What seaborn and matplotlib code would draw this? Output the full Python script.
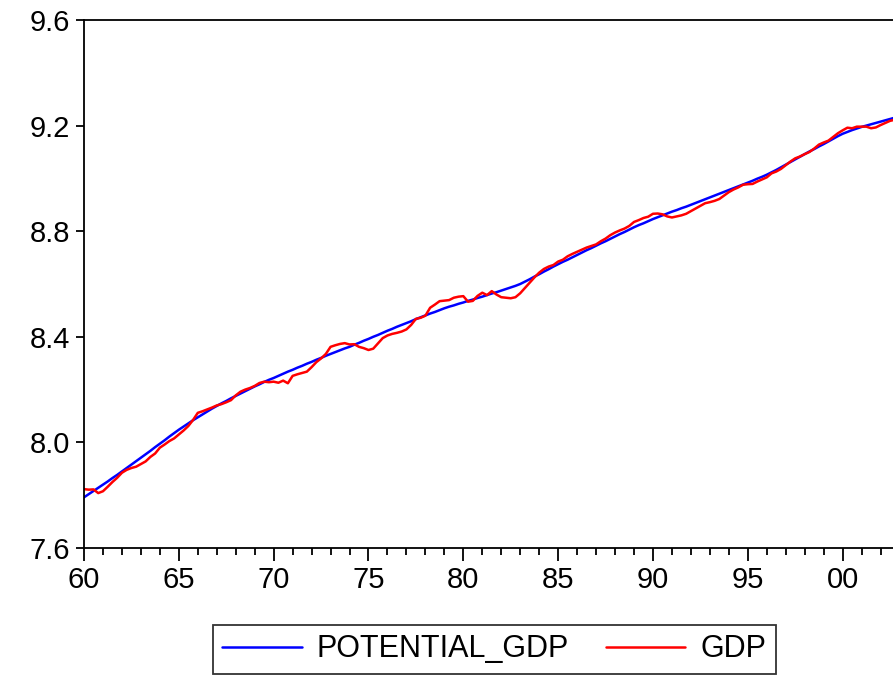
import numpy as np
import pandas as pd
import matplotlib
matplotlib.use("Agg")
import matplotlib.pyplot as plt
import seaborn as sns
from matplotlib.lines import Line2D

# ---- data (quarterly, 1960Q1 - 2002Q4), log levels ----
years = list(range(1960, 2003))
quarters = [1, 2, 3, 4]

potential_gdp = [
    7.792, 7.804, 7.816, 7.828,  7.840, 7.852, 7.865, 7.877,
    7.890, 7.903, 7.916, 7.929,  7.942, 7.955, 7.968, 7.982,
    7.995, 8.008, 8.022, 8.035,  8.048, 8.060, 8.072, 8.084,
    8.095, 8.106, 8.117, 8.128,  8.138, 8.148, 8.157, 8.167,
    8.176, 8.185, 8.194, 8.203,  8.212, 8.220, 8.229, 8.237,
    8.244, 8.252, 8.260, 8.268,  8.275, 8.283, 8.290, 8.298,
    8.305, 8.313, 8.320, 8.328,  8.335, 8.342, 8.349, 8.356,
    8.362, 8.370, 8.377, 8.385,  8.392, 8.400, 8.407, 8.415,
    8.423, 8.430, 8.438, 8.445,  8.452, 8.459, 8.467, 8.474,
    8.481, 8.488, 8.494, 8.501,  8.508, 8.514, 8.519, 8.525,
    8.530, 8.536, 8.541, 8.547,  8.552, 8.558, 8.564, 8.569,
    8.575, 8.581, 8.587, 8.593,  8.600, 8.609, 8.618, 8.628,
    8.637, 8.647, 8.656, 8.666,  8.675, 8.684, 8.692, 8.701,
    8.710, 8.719, 8.728, 8.736,  8.745, 8.754, 8.762, 8.771,
    8.780, 8.789, 8.797, 8.806,  8.815, 8.823, 8.830, 8.838,
    8.846, 8.853, 8.860, 8.867,  8.874, 8.880, 8.887, 8.893,
    8.900, 8.907, 8.914, 8.921,  8.928, 8.935, 8.942, 8.949,
    8.956, 8.963, 8.970, 8.977,  8.984, 8.991, 8.999, 9.006,
    9.014, 9.023, 9.032, 9.042,  9.052, 9.062, 9.072, 9.082,
    9.092, 9.102, 9.111, 9.121,  9.130, 9.140, 9.150, 9.160,
    9.169, 9.176, 9.183, 9.189,  9.195, 9.200, 9.205, 9.210,
    9.215, 9.220, 9.225, 9.230,
]

gdp = [
    7.823, 7.821, 7.822, 7.808,  7.815, 7.832, 7.850, 7.866,
    7.885, 7.896, 7.903, 7.908,  7.918, 7.928, 7.945, 7.958,
    7.980, 7.992, 8.005, 8.015,  8.030, 8.045, 8.062, 8.085,
    8.112, 8.118, 8.125, 8.132,  8.140, 8.145, 8.152, 8.160,
    8.178, 8.192, 8.200, 8.206,  8.214, 8.225, 8.230, 8.228,
    8.230, 8.226, 8.234, 8.224,  8.252, 8.258, 8.263, 8.268,
    8.285, 8.304, 8.318, 8.335,  8.362, 8.368, 8.373, 8.376,
    8.371, 8.372, 8.362, 8.357,  8.350, 8.355, 8.375, 8.395,
    8.405, 8.411, 8.415, 8.420,  8.428, 8.445, 8.468, 8.472,
    8.480, 8.510, 8.522, 8.535,  8.537, 8.539, 8.548, 8.552,
    8.554, 8.533, 8.536, 8.555,  8.567, 8.558, 8.573, 8.560,
    8.550, 8.548, 8.546, 8.550,  8.565, 8.585, 8.605, 8.625,
    8.643, 8.657, 8.666, 8.672,  8.685, 8.692, 8.705, 8.714,
    8.722, 8.730, 8.738, 8.744,  8.750, 8.762, 8.772, 8.785,
    8.795, 8.803, 8.810, 8.820,  8.835, 8.842, 8.850, 8.855,
    8.866, 8.867, 8.864, 8.856,  8.852, 8.856, 8.860, 8.866,
    8.876, 8.886, 8.896, 8.906,  8.910, 8.915, 8.922, 8.935,
    8.948, 8.958, 8.966, 8.976,  8.978, 8.979, 8.988, 8.996,
    9.004, 9.019, 9.026, 9.036,  9.050, 9.064, 9.076, 9.083,
    9.092, 9.100, 9.113, 9.128,  9.136, 9.143, 9.157, 9.171,
    9.182, 9.192, 9.190, 9.196,  9.196, 9.196, 9.190, 9.193,
    9.202, 9.210, 9.218, 9.222,
]

series_names = ["POTENTIAL_GDP", "GDP"]
series_colors = ["#0000FF", "#FF0000"]
y_ticks = [7.6, 8.0, 8.4, 8.8, 9.2, 9.6]
x_major = [1960, 1965, 1970, 1975, 1980, 1985, 1990, 1995, 2000]
x_labels = ["60", "65", "70", "75", "80", "85", "90", "95", "00"]

# ---- build table ----
t = [y + (q - 1) / 4 for y in years for q in quarters]
df = pd.DataFrame({
    "t": t * 2,
    "value": potential_gdp + gdp,
    "series": [series_names[0]] * len(t) + [series_names[1]] * len(t),
})

sns.set_theme(style="ticks")
plt.rcParams["font.family"] = ["Liberation Sans", "DejaVu Sans"]
plt.rcParams["text.color"] = "black"

fig = plt.figure(figsize=(8.93, 6.75), dpi=100)
ax = fig.add_axes([84 / 893, 1 - 548 / 675, 1 - 84 / 893 + 0.002, 528 / 675])

sns.lineplot(data=df, x="t", y="value", hue="series", hue_order=series_names,
             palette=series_colors, linewidth=1.8, ax=ax, legend=False)

ax.set_xlim(1960, 2002.75)
ax.set_ylim(7.6, 9.6)
ax.set_yticks(y_ticks)
ax.set_yticklabels([f"{v:.1f}" for v in y_ticks])
ax.set_xticks(x_major)
ax.set_xticklabels(x_labels)
ax.set_xticks(list(range(1960, 2003)), minor=True)
ax.set_xlabel("")
ax.set_ylabel("")

ax.tick_params(axis="y", which="major", direction="out", length=6, width=1.3,
               labelsize=21, colors="black", pad=4)
ax.tick_params(axis="x", which="major", direction="out", length=9, width=1.3,
               labelsize=21, colors="black", pad=4)
ax.tick_params(axis="x", which="minor", direction="out", length=5, width=1.3,
               colors="black")
for side in ["left", "top", "bottom"]:
    ax.spines[side].set_color("black")
    ax.spines[side].set_linewidth(1.3)
ax.spines["right"].set_visible(False)

handles = [Line2D([0], [0], color=c, lw=1.8) for c in series_colors]
leg = ax.legend(handles, series_names, loc="center", bbox_to_anchor=(0.506, -0.192),
                ncol=2, frameon=True, fancybox=False, fontsize=22,
                handlelength=2.6, handletextpad=0.5, columnspacing=1.2,
                borderpad=0.3, borderaxespad=0)
leg.get_frame().set_edgecolor("black")
leg.get_frame().set_linewidth(1.3)
for txt in leg.get_texts():
    txt.set_color("black")

fig.savefig("out.png", dpi=100)
